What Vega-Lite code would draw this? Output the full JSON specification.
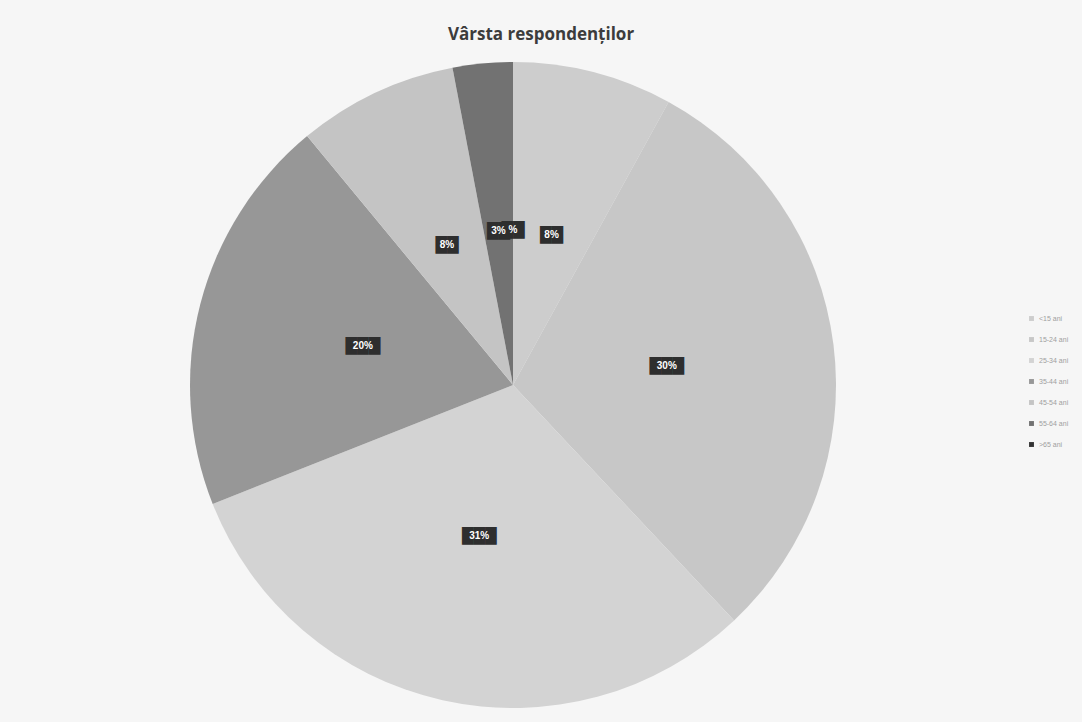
{
  "$schema": "https://vega.github.io/schema/vega-lite/v6.json",
  "autosize": {"type": "none"},
  "width": 1026,
  "height": 650,
  "padding": {"top": 60, "left": 0, "right": 56, "bottom": 12},
  "background": "#f6f6f6",
  "title": {
    "text": "Vârsta respondenților",
    "font": "Open Sans",
    "fontSize": 17,
    "fontWeight": "bold",
    "color": "#3c3c3c",
    "anchor": "middle",
    "dx": 28,
    "offset": 16
  },
  "data": {
    "values": [
      {"idx": 1, "grupa": "<15 ani", "value": 8, "label": "8%"},
      {"idx": 2, "grupa": "15-24 ani", "value": 30, "label": "30%"},
      {"idx": 3, "grupa": "25-34 ani", "value": 31, "label": "31%"},
      {"idx": 4, "grupa": "35-44 ani", "value": 20, "label": "20%"},
      {"idx": 5, "grupa": "45-54 ani", "value": 8, "label": "8%"},
      {"idx": 6, "grupa": "55-64 ani", "value": 3, "label": "3%"},
      {"idx": 7, "grupa": ">65 ani", "value": 0, "label": "%"}
    ]
  },
  "encoding": {
    "theta": {"field": "value", "type": "quantitative", "stack": true},
    "order": {"field": "idx", "type": "quantitative"}
  },
  "layer": [
    {
      "mark": {"type": "arc", "outerRadius": 323, "stroke": null},
      "encoding": {
        "color": {
          "field": "grupa",
          "type": "nominal",
          "sort": ["<15 ani", "15-24 ani", "25-34 ani", "35-44 ani", "45-54 ani", "55-64 ani", ">65 ani"],
          "scale": {
            "domain": ["<15 ani", "15-24 ani", "25-34 ani", "35-44 ani", "45-54 ani", "55-64 ani", ">65 ani"],
            "range": ["#cdcdcd", "#c7c7c7", "#d3d3d3", "#979797", "#c4c4c4", "#727272", "#333333"]
          },
          "legend": {
            "title": null,
            "orient": "none",
            "legendX": 1028,
            "legendY": 255,
            "symbolType": "square",
            "symbolSize": 24,
            "symbolStrokeWidth": 0,
            "labelFont": "Liberation Sans",
            "labelFontSize": 7,
            "labelColor": "#a0a0a0",
            "rowPadding": 13,
            "labelOffset": 4
          }
        }
      }
    },
    {
      "transform": [{"calculate": "length(datum.label) > 2 ? '███' : '██'", "as": "box"}],
      "mark": {"type": "text", "radius": 155, "font": "DejaVu Sans", "fontSize": 15, "color": "#2e2e2e", "baseline": "middle", "align": "center"},
      "encoding": {"text": {"field": "box"}}
    },
    {
      "mark": {"type": "text", "radius": 155, "font": "Liberation Sans", "fontSize": 10, "fontWeight": "bold", "color": "#ffffff", "baseline": "middle", "align": "center"},
      "encoding": {"text": {"field": "label"}}
    }
  ]
}
